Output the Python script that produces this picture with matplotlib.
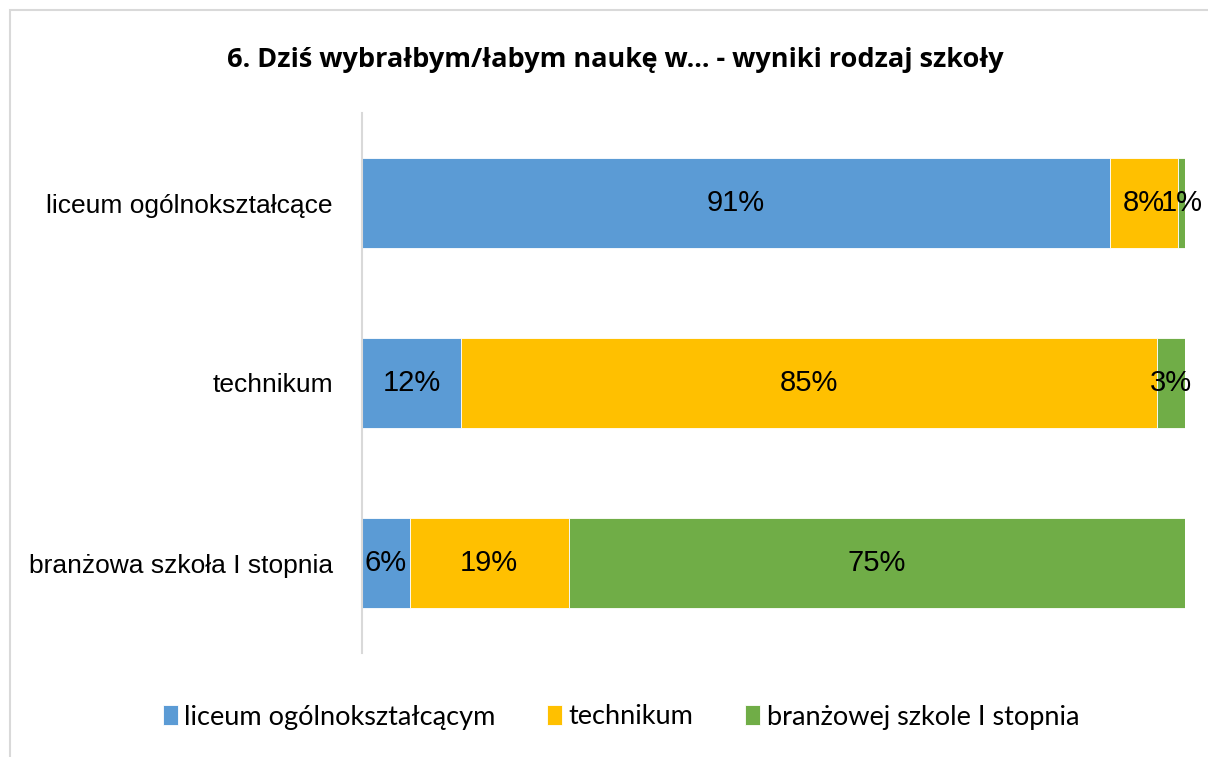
import matplotlib.pyplot as plt
from matplotlib.patches import Rectangle
import numpy as np

# Chart data
categories = ["liceum ogólnokształcące", "technikum", "branżowa szkoła I stopnia"]
series_names = ["liceum ogólnokształcącym", "technikum", "branżowej szkole I stopnia"]
liceum = [90.9, 12.0, 5.8]
technikum = [8.3, 84.6, 19.3]
branzowa = [0.8, 3.4, 74.9]
labels = [["91%", "12%", "6%"], ["8%", "85%", "19%"], ["1%", "3%", "75%"]]
colors = ["#5B9BD5", "#FFC000", "#70AD47"]
title = "6. Dziś wybrałbym/łabym naukę w... - wyniki rodzaj szkoły"

W, H = 1208, 757
fig = plt.figure(figsize=(W / 100, H / 100), dpi=100)

# outer chart border
fig.patches.append(Rectangle((10 / W, -0.1), 1.2, (H - 10) / H + 0.1,
                             transform=fig.transFigure, fill=False,
                             edgecolor="#d9d9d9", linewidth=1.5))

ax = fig.add_axes([362 / W, 1 - 653 / H, (1185 - 362) / W, (653 - 113) / H])

y = np.arange(len(categories))
left = np.zeros(len(categories))
for vals, name, color, labs in zip([liceum, technikum, branzowa], series_names, colors, labels):
    bars = ax.barh(y, vals, left=left, height=0.5, color=color, label=name,
                   edgecolor="white", linewidth=0.6)
    for bar, lab in zip(bars, labs):
        cx = bar.get_x() + bar.get_width() / 2
        ax.text(cx, bar.get_y() + bar.get_height() / 2, lab, ha="center", va="center",
                fontsize=21, family="Liberation Sans", color="black")
    left += np.array(vals)

ax.set_xlim(0, 100)
ax.set_ylim(2.5, -0.5)
ax.set_yticks(y)
ax.set_yticklabels(categories, fontsize=19, family="Liberation Sans")
ax.tick_params(axis="y", length=0, pad=21)
ax.set_xticks([])
for s in ["top", "right", "bottom"]:
    ax.spines[s].set_visible(False)
ax.spines["left"].set_color("#d9d9d9")
ax.spines["left"].set_linewidth(1.5)

fig.text(615 / W, 1 - 60 / H, title, ha="center", va="center",
         fontsize=19.5, fontweight="bold", family="Open Sans")

leg = fig.legend(loc="center", bbox_to_anchor=(621 / W, 1 - 717 / H), ncol=3,
                 frameon=False, prop={"family": "Lato", "size": 19.5},
                 handlelength=0.55, handleheight=0.75, handletextpad=0.25,
                 columnspacing=1.9)

fig.savefig("out.png", dpi=100)
